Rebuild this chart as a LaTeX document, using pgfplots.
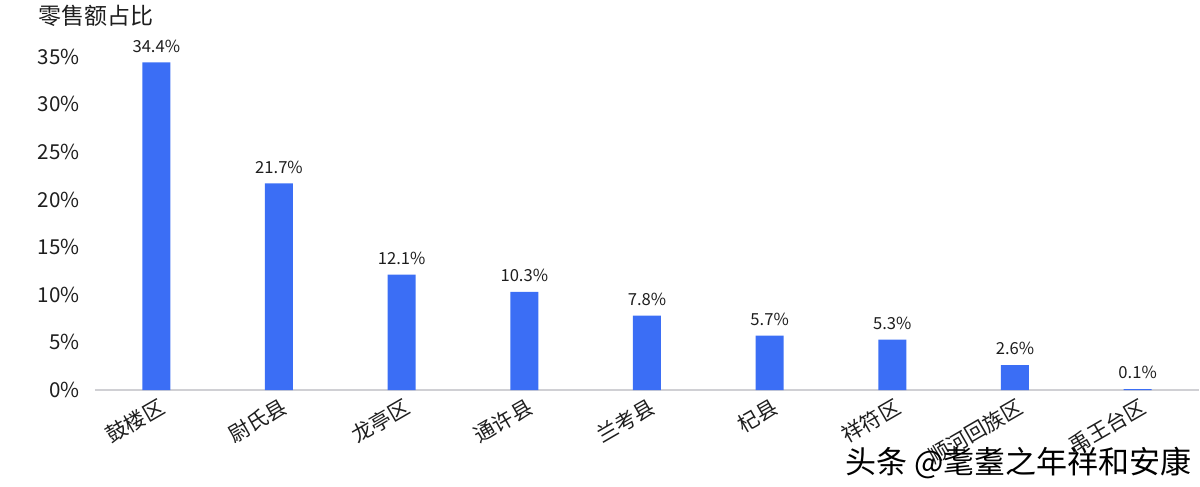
\documentclass[border=0pt]{standalone}
\usepackage{fontspec}
\setmainfont{Noto Sans CJK SC}
\usepackage{pgfplots}
\pgfplotsset{compat=1.18}
\definecolor{barblue}{RGB}{59,110,245}
\definecolor{axgray}{RGB}{208,208,212}
\definecolor{txt}{RGB}{30,30,30}
\begin{document}
\begin{tikzpicture}
\path (-47.5pt,-48.5pt) rectangle (552.5pt,195pt);
\begin{axis}[
  scale only axis,
  width=552pt, height=166.7pt,
  xmin=-0.5, xmax=8.5, ymin=0, ymax=35,
  clip=false,
  axis y line=none,
  axis x line*=bottom,
  x axis line style={draw=axgray, line width=0.8pt, -},
  /pgf/number format/assume math mode=true,
  ytick={0,5,10,15,20,25,30,35},
  xtick={0,1,2,3,4,5,6,7,8},
  xticklabels={鼓楼区,尉氏县,龙亭区,通许县,兰考县,杞县,祥符区,顺河回族区,禹王台区},
  x tick label style={rotate=30, anchor=north east, font=\fontsize{10.5pt}{12pt}\selectfont, text=txt, xshift=0pt, yshift=-2pt, inner sep=1pt},
  major tick length=0pt,
  ybar, bar width=14pt,
  nodes near coords={\pgfmathprintnumber[fixed,precision=1,fixed zerofill,assume math mode=true]{\pgfplotspointmeta}\%},
  every node near coord/.append style={font=\fontsize{8.3pt}{10pt}\selectfont, text=txt, yshift=1.5pt},
]
\addplot[fill=barblue, draw=none] coordinates {(0,34.4) (1,21.7) (2,12.1) (3,10.3) (4,7.8) (5,5.7) (6,5.3) (7,2.6) (8,0.1)};
\foreach \v in {0,5,...,35} {
  \edef\tmp{\noexpand\node[anchor=east, font=\noexpand\fontsize{10.3pt}{12pt}\noexpand\selectfont, text=txt, inner sep=0pt] at (axis cs:-0.5,\v) [xshift=-7.5pt] {\v\noexpand\%};}
  \tmp
}
\end{axis}
\node[anchor=west, font=\fontsize{11.5pt}{13pt}\selectfont, text=txt, inner sep=0pt] at (-28.5pt,187pt) {零售额占比};
\node[anchor=west, font=\fontsize{15.5pt}{18pt}\selectfont, text=black, inner sep=0pt] at (375pt,-36.5pt) {头条 @耄耋之年祥和安康};
\end{tikzpicture}
\end{document}
